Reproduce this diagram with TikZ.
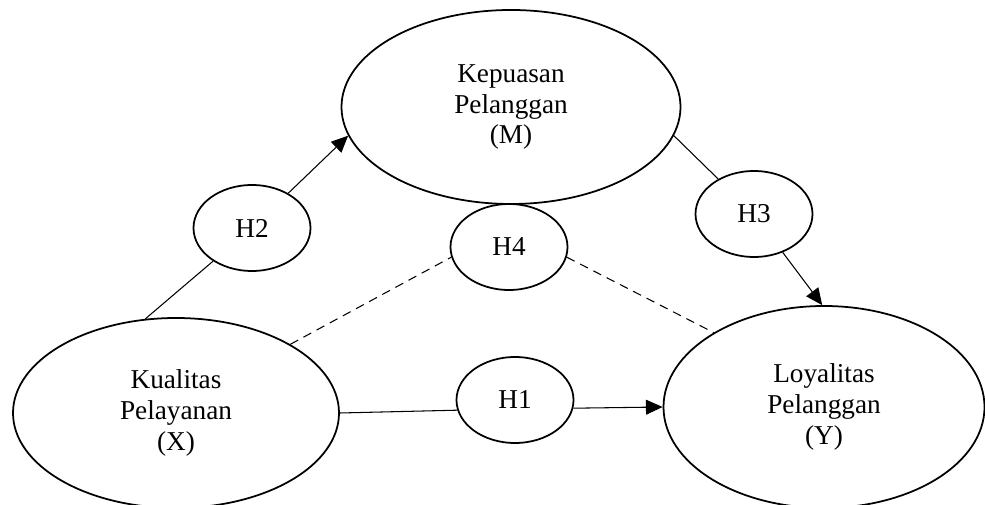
\documentclass[tikz,border=0pt]{standalone}
\usepackage{fontspec}
\setmainfont{Liberation Serif}
\usetikzlibrary{arrows.meta, shapes.geometric}

\begin{document}
\begin{tikzpicture}[
  var/.style={draw, ellipse, line width=1pt, inner sep=0pt, align=center, font=\fontsize{15.5}{17.5}\selectfont},
  hyp/.style={draw, ellipse, line width=1pt, inner sep=0pt, minimum width=2.34cm, minimum height=1.72cm, font=\fontsize{15.5}{17.5}\selectfont},
  link/.style={line width=0.6pt},
  tip/.style={line width=0.6pt, -{Triangle[length=9.5pt, width=8.5pt]}}
]
  \useasboundingbox (0,0) rectangle (19.7,10.08);

  \node[var, minimum width=6.78cm, minimum height=3.88cm] (kep) at (10.22,7.94) {Kepuasan\\Pelanggan\\(M)};
  \node[var, minimum width=6.52cm, minimum height=3.8cm] (kual) at (3.52,1.82) {Kualitas\\Pelayanan\\(X)};
  \node[var, minimum width=6.42cm, minimum height=4.04cm] (loy) at (16.48,1.94) {Loyalitas\\Pelanggan\\(Y)};

  \node[hyp] (h2) at (5.04,5.52) {H2};
  \node[hyp] (h4) at (10.18,5.14) {H4};
  \node[hyp] (h3) at (15.08,5.80) {H3};
  \node[hyp] (h1) at (10.30,2.08) {H1};

  \draw[link] (kual.108) -- (h2);
  \draw[tip] (h2) -- (kep.190);
  \draw[link] (kep.350) -- (h3);
  \draw[tip] (h3) -- (loy.91);
  \draw[link] (kual.east) -- (h1.190);
  \draw[tip] (h1.352) -- (loy.west);

  \draw[link, dash pattern=on 5pt off 3.5pt] (kual.31) -- (h4.190);
  \draw[link, dash pattern=on 5pt off 3.5pt] (h4.350) -- (loy.146);
\end{tikzpicture}
\end{document}
